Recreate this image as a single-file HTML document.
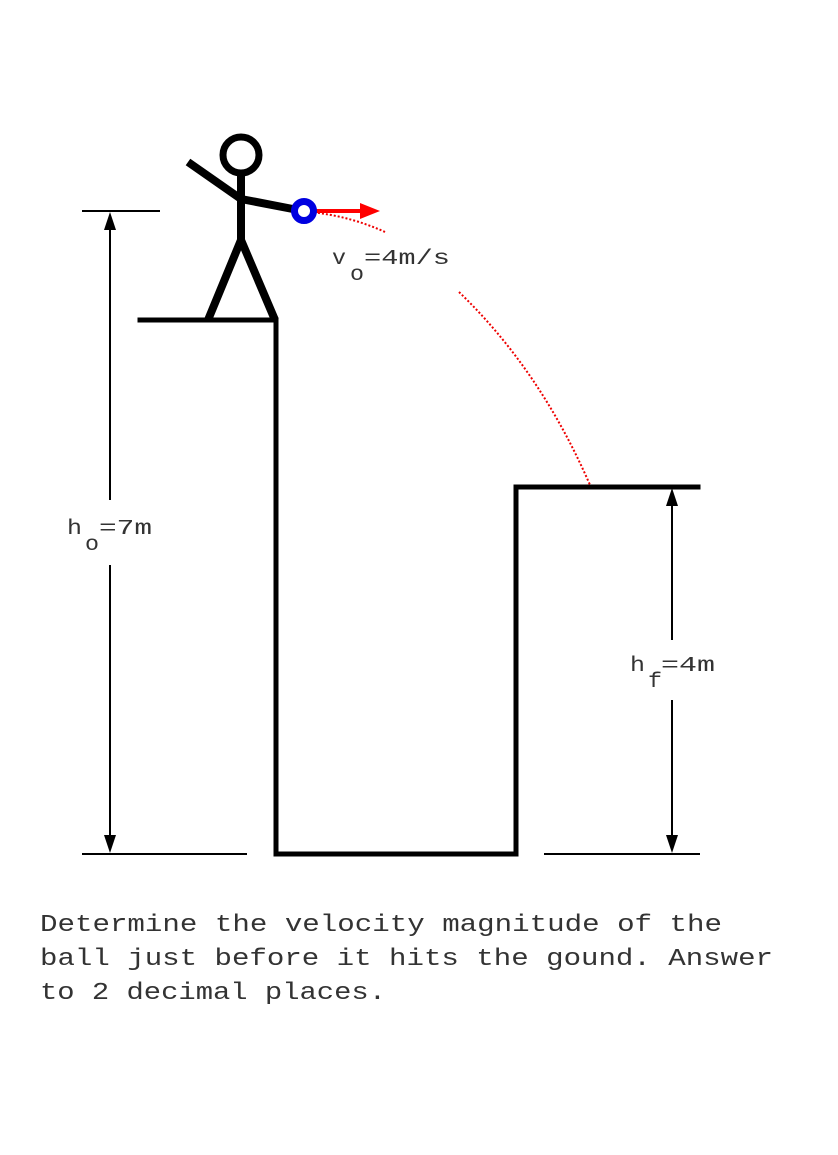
<!DOCTYPE html>
<html><head><meta charset="utf-8"><style>
html,body{margin:0;padding:0;background:#fff;}
svg{display:block;}
text{font-family:"Liberation Mono",monospace;fill:#333;}
</style></head><body>
<svg width="838" height="1155" viewBox="0 0 838 1155" xmlns="http://www.w3.org/2000/svg">
<g stroke="#000" stroke-width="5" fill="none" stroke-linecap="square">
<polyline points="140,320 276,320 276,854 516,854 516,487 698,487"/>
</g>
<g stroke="#000" stroke-width="8" fill="none" stroke-linecap="butt">
<circle cx="241" cy="155" r="18" stroke-width="7"/>
<line x1="241" y1="173" x2="241" y2="240"/>
<polyline points="188,162 241,199 298,210"/>
<polyline points="208,320 241,240 275,320"/>
</g>
<path d="M310,212 Q350,216 385,232" stroke="#e00" stroke-width="2" stroke-dasharray="2,2" fill="none"/>
<path d="M459,292 Q540,370 590,485" stroke="#e00" stroke-width="2" stroke-dasharray="2,2" fill="none"/>
<line x1="304" y1="211" x2="362" y2="211" stroke="#f00" stroke-width="4"/>
<path d="M360,203 L380,211 L360,219 z" fill="#f00"/>
<circle cx="304" cy="211" r="9.5" stroke="#0000e0" stroke-width="7" fill="#fff"/>
<g stroke="#000" stroke-width="2">
<line x1="82" y1="211" x2="160" y2="211"/>
<line x1="82" y1="854" x2="247" y2="854"/>
<line x1="544" y1="854" x2="700" y2="854"/>
<line x1="110" y1="230" x2="110" y2="500"/>
<line x1="110" y1="565" x2="110" y2="836"/>
<line x1="672" y1="506" x2="672" y2="640"/>
<line x1="672" y1="700" x2="672" y2="836"/>
</g>
<g fill="#000">
<path d="M110,212 L104,230 L116,230 z"/>
<path d="M110,853 L104,835 L116,835 z"/>
<path d="M672,488 L666,506 L678,506 z"/>
<path d="M672,853 L666,835 L678,835 z"/>
</g>
<text x="332" y="264" font-size="21" textLength="14" lengthAdjust="spacingAndGlyphs">v</text>
<text x="350" y="280" font-size="21" textLength="14" lengthAdjust="spacingAndGlyphs">o</text>
<text x="364" y="264" font-size="21" textLength="86" lengthAdjust="spacingAndGlyphs">=4m/s</text>
<text x="67" y="534" font-size="21" textLength="15" lengthAdjust="spacingAndGlyphs">h</text>
<text x="85" y="550" font-size="21" textLength="14" lengthAdjust="spacingAndGlyphs">o</text>
<text x="99" y="534" font-size="21" textLength="53" lengthAdjust="spacingAndGlyphs">=7m</text>
<text x="630" y="671" font-size="21" textLength="15" lengthAdjust="spacingAndGlyphs">h</text>
<text x="648" y="687" font-size="21" textLength="14" lengthAdjust="spacingAndGlyphs">f</text>
<text x="661" y="671" font-size="21" textLength="54" lengthAdjust="spacingAndGlyphs">=4m</text>
<text font-size="24" xml:space="preserve"><tspan x="40" y="931" textLength="682" lengthAdjust="spacingAndGlyphs">Determine the velocity magnitude of the</tspan><tspan x="40" y="965" textLength="733" lengthAdjust="spacingAndGlyphs">ball just before it hits the gound. Answer</tspan><tspan x="40" y="999" textLength="346" lengthAdjust="spacingAndGlyphs">to 2 decimal places.</tspan></text>
</svg>
</body></html>
